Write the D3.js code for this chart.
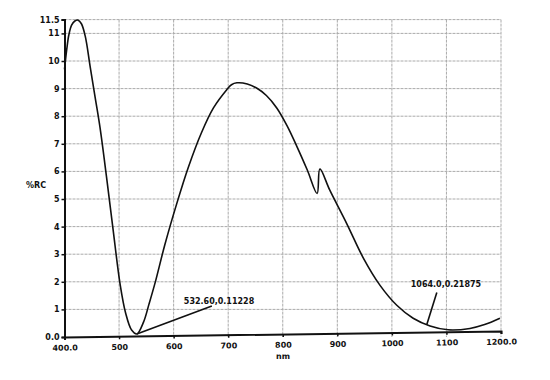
<!DOCTYPE html>
<html><head><meta charset="utf-8">
<script src="https://cdn.jsdelivr.net/npm/d3@7"></script>
<style>
body{margin:0;background:#fff}
text{font-family:"DejaVu Sans",sans-serif;font-weight:bold;font-size:8px;fill:#111}
</style></head><body>
<svg id="c" width="550" height="380"></svg>
<script>
// data (wavelength nm, %RC)
const wavelength = [400,404,408,413,419,425,431,438,447,456,465,477,489,502,512,523,532.6,545,555,566,584,606,627,651,673,697,706,716,735,752,770,789,808,826,845,863,868,886,917,948,978,1009,1039,1070,1103,1143,1170,1198];
const rc =         [9.7,10.4,10.95,11.3,11.45,11.48,11.35,10.9,9.8,8.7,7.6,5.8,3.9,1.9,0.87,0.25,0.11,0.55,1.2,1.96,3.35,4.85,6.15,7.4,8.3,8.95,9.14,9.21,9.17,9.02,8.75,8.3,7.65,6.9,6.05,5.2,6.09,5.33,4.12,2.85,1.88,1.15,0.68,0.4,0.26,0.31,0.45,0.68];
const xTicks = [400,500,600,700,800,900,1000,1100,1200];
const xTickLabels = ["400.0","500","600","700","800","900","1000","1100","1200.0"];
const yTicks = [0,1,2,3,4,5,6,7,8,9,10,11,11.5];
const yTickLabels = ["0.0","1","2","3","4","5","6","7","8","9","10","11","11.5"];
const annX = [532.6, 1064.0];
const annLabels = ["532.60,0.11228","1064.0,0.21875"];

const svg = d3.select("#c");
const x = d3.scaleLinear().domain([400,1200]).range([64.5,501]);
const y = d3.scaleLinear().domain([0,11.5]).range([337,19.6]);

// grid
const g = svg.append("g");
g.selectAll(".hg").data(yTicks.filter(v=>v>0)).join("line")
  .attr("x1",x(400)).attr("x2",x(1200)).attr("y1",d=>y(d)).attr("y2",d=>y(d))
  .attr("stroke","#aaa").attr("stroke-width",1).attr("stroke-dasharray","3,1");
g.selectAll(".vg").data(xTicks.filter(v=>v>400)).join("line")
  .attr("x1",d=>x(d)).attr("x2",d=>x(d)).attr("y1",y(11.5)).attr("y2",y(0))
  .attr("stroke","#aaa").attr("stroke-width",1).attr("stroke-dasharray","3,1");

// y axis
const ya = svg.append("g").attr("transform",`translate(${x(400)},0)`)
  .call(d3.axisLeft(y).tickValues(yTicks).tickFormat((d,i)=>yTickLabels[i]).tickSize(3).tickPadding(2));
ya.select(".domain").attr("stroke","#111").attr("stroke-width",2);
ya.selectAll(".tick line").attr("stroke","#111").attr("stroke-width",1.5);
ya.selectAll("text").style("font-family","DejaVu Sans").style("font-weight","bold").style("font-size","8px").attr("fill","#111");

// x axis (slightly tilted as in the scan)
const tilt = Math.atan2(-6, x(1200)-x(400))*180/Math.PI;
const xa = svg.append("g").attr("transform",`rotate(${tilt},${x(400)},${y(0)}) translate(0,${y(0)})`)
  .call(d3.axisBottom(x).tickValues(xTicks).tickFormat((d,i)=>xTickLabels[i]).tickSize(3).tickPadding(5));
xa.select(".domain").attr("stroke","#111").attr("stroke-width",2);
xa.selectAll(".tick line").attr("stroke","#111").attr("stroke-width",1.5);
xa.selectAll("text").style("font-family","DejaVu Sans").style("font-weight","bold").style("font-size","8px").attr("fill","#111");
xa.append("text").attr("x",x(800)).attr("y",25).attr("text-anchor","middle").text("nm");

svg.append("text").attr("x",36).attr("y",188).attr("text-anchor","middle").text("%RC");

// curve
const pts = wavelength.map((w,i)=>[w,rc[i]]);
svg.append("path").datum(pts)
  .attr("d",d3.line().x(d=>x(d[0])).y(d=>y(d[1])).curve(d3.curveCatmullRom.alpha(0.5)))
  .attr("fill","none").attr("stroke","#111").attr("stroke-width",1.6);

// annotations
const interp = w => {
  const i = d3.bisectLeft(wavelength,w);
  if (i<=0) return rc[0];
  const t=(w-wavelength[i-1])/(wavelength[i]-wavelength[i-1]);
  return rc[i-1]+t*(rc[i]-rc[i-1]);
};
const annOff = [{lx:75,ly:-28,tx:47,ty:-30},{lx:10,ly:-32,tx:-16,ty:-37}];
annX.forEach((w,i)=>{
  const px=x(w), py=y(interp(w)), o=annOff[i];
  svg.append("line").attr("x1",px).attr("y1",py).attr("x2",px+o.lx).attr("y2",py+o.ly)
    .attr("stroke","#111").attr("stroke-width",1.6);
  svg.append("text").attr("x",px+o.tx).attr("y",py+o.ty).text(annLabels[i]);
});
</script></body></html>
